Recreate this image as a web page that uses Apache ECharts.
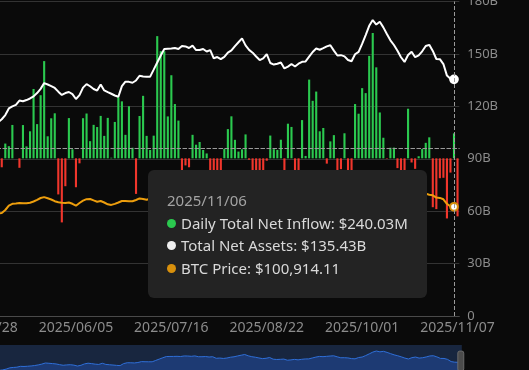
<!DOCTYPE html>
<html><head><meta charset="utf-8">
<script src="https://cdn.jsdelivr.net/npm/echarts@6/dist/echarts.min.js"></script>
<style>html,body{margin:0;padding:0;background:#0a0a0a;overflow:hidden}#c{width:529px;height:370px}</style>
</head><body><div id="c"></div>
<script>
const dates = [
'2025/04/28','2025/04/29','2025/04/30','2025/05/01','2025/05/02',
'2025/05/05','2025/05/06','2025/05/07','2025/05/08','2025/05/09',
'2025/05/12','2025/05/13','2025/05/14','2025/05/15','2025/05/16',
'2025/05/19','2025/05/20','2025/05/21','2025/05/22','2025/05/23',
'2025/05/27','2025/05/28','2025/05/29','2025/05/30',
'2025/06/02','2025/06/03','2025/06/04','2025/06/05','2025/06/06',
'2025/06/09','2025/06/10','2025/06/11','2025/06/12','2025/06/13',
'2025/06/16','2025/06/17','2025/06/18','2025/06/20',
'2025/06/23','2025/06/24','2025/06/25','2025/06/26','2025/06/27',
'2025/06/30','2025/07/01','2025/07/02','2025/07/03',
'2025/07/07','2025/07/08','2025/07/09','2025/07/10','2025/07/11',
'2025/07/14','2025/07/15','2025/07/16','2025/07/17','2025/07/18',
'2025/07/21','2025/07/22','2025/07/23','2025/07/24','2025/07/25',
'2025/07/28','2025/07/29','2025/07/30','2025/07/31','2025/08/01',
'2025/08/04','2025/08/05','2025/08/06','2025/08/07','2025/08/08',
'2025/08/11','2025/08/12','2025/08/13','2025/08/14','2025/08/15',
'2025/08/18','2025/08/19','2025/08/20','2025/08/21','2025/08/22',
'2025/08/25','2025/08/26','2025/08/27','2025/08/28','2025/08/29',
'2025/09/02','2025/09/03','2025/09/04','2025/09/05',
'2025/09/08','2025/09/09','2025/09/10','2025/09/11','2025/09/12',
'2025/09/15','2025/09/16','2025/09/17','2025/09/18','2025/09/19',
'2025/09/22','2025/09/23','2025/09/24','2025/09/25','2025/09/26',
'2025/09/29','2025/09/30','2025/10/01','2025/10/02','2025/10/03',
'2025/10/06','2025/10/07','2025/10/08','2025/10/09','2025/10/10',
'2025/10/13','2025/10/14','2025/10/15','2025/10/16','2025/10/17',
'2025/10/20','2025/10/21','2025/10/22','2025/10/23','2025/10/24',
'2025/10/27','2025/10/28','2025/10/29','2025/10/30','2025/10/31',
'2025/11/03','2025/11/04','2025/11/05','2025/11/06','2025/11/07'
];
// Daily total net inflow, USD millions
const dailyNetInflowM = [
591,173,-56,422,675, 425,-86,142,117,321, 0,-91,320,115,260, 667,329,607,935,212,
385,433,-347,-616, -268,387,87,-278,-48, 386,431,165,322,301, 408,216,389,6,
350,588,548,226,501, 102,-342,407,601, 216,80,218,1175,1030, 1030,403,799,522,363,
-131,-68,-86,226,131, 157,80,47,-114,-812, -323,-196,91,281,404, 178,65,87,230,-14,
-121,-523,-311,-194,-23, 219,88,81,179,-127, 333,302,-300,-160, 368,23,757,553,642,
260,292,-51,163,223, -363,-104,241,-258,-418, 522,429,675,627,985, 1205,875,441,198,-4.5,
102,103,-94,-536,-367, 477,-40,-101,20,90, 149,202,-470,-488,-191, -187,-578,-137,240.03,-558
];
// Total net assets, USD billions
const totalNetAssetsB = [
109.3,109.9,109.9,109.3,110.5, 111.0,112.6,115.0,118.8,120.0, 120.8,123.3,122.9,123.6,124.5,
125.7,127.6,130.0,133.3,132.5, 131.6,130.5,128.4,126.5, 127.6,128.2,127.0,124.2,126.4,
130.7,132.7,131.5,129.9,129.0, 132.5,129.1,128.1,127.2, 126.2,125.5,131.6,134.1,134.0,
133.5,134.8,137.5,137.1, 137.0,137.0,141.0,145.1,149.1, 152.8,153.0,153.1,153.4,152.8,
154.5,154.3,153.4,154.7,152.2, 152.2,152.8,151.4,152.2,147.5, 148.2,147.0,148.3,150.7,152.0,
154.5,156.7,158.9,154.9,152.3, 150.7,148.5,146.5,147.5,149.9, 144.8,143.9,144.4,145.1,141.7,
142.7,144.2,142.8,144.4, 145.5,145.7,148.4,151.1,153.1, 152.4,153.3,154.3,155.0,151.9,
149.1,149.3,148.6,146.5,145.8, 149.8,151.2,155.7,160.8,166.1, 169.4,166.8,168.4,165.2,161.4,
157.8,155.1,151.8,148.1,145.4, 149.4,151.2,148.1,149.2,151.5, 154.5,155.2,151.7,147.1,147.0,
144.2,137.6,135.8,135.43,null
];
// BTC price, USD
const btcPriceUSD = [
95000,94900,94200,96500,96900, 94400,94700,97700,102100,103900, 104100,104700,104500,104400,105000,
106200,107800,109700,110600,109400, 108200,106500,105400,104900, 104800,105200,103900,102000,104700,
107000,108500,108700,107300,106000, 106700,105200,103400,102800, 103800,105200,106700,106700,106400,
106400,107700,109300,108800, 108000,108900,111300,115900,117500, 119800,117700,118700,119300,117900,
117400,119900,118600,118300,117600, 118000,117900,117800,115800,113300, 115000,114100,115000,117500,116700,
118700,120200,123300,118400,117400, 116200,112900,114300,112400,116900, 110100,111800,111200,112600,108400,
111200,111700,110700,110700, 112000,111500,113900,115500,116100, 115400,116800,116500,117100,115700,
112700,112000,113300,109000,109700, 114400,114000,118600,120600,122300, 124800,121500,123300,121600,113200,
115300,113000,110800,108200,106500, 110600,108500,107600,110000,111000, 114100,112900,112400,110100,109800,
108400,103900,101200,100914.11,null
];
const assetAxisMin = 0, assetAxisMax = 180, assetAxisStep = 30;

const GREEN = '#2bc94f', RED = '#f0362c', WHITE = '#ffffff', ORANGE = '#d8900c';
const chart = echarts.init(document.getElementById('c'), null, {renderer: 'canvas'});
const fmtNum = (v, d) => v.toLocaleString('en-US', {minimumFractionDigits: d, maximumFractionDigits: d});
const dot = c => `<span style="display:inline-block;width:9px;height:9px;border-radius:50%;background:${c};margin-right:5px;vertical-align:1px"></span>`;

chart.setOption({
  backgroundColor: '#0a0a0a',
  animation: false,
  textStyle: {fontFamily: 'Noto Sans'},
  grid: {left: -21.2, right: 69.7, top: 1.5, bottom: 54, outerBoundsMode: 'none', containLabel: false},
  tooltip: {
    trigger: 'axis',
    alwaysShowContent: true,
    transitionDuration: 0,
    position: [148, 170],
    backgroundColor: '#232323',
    borderWidth: 0,
    padding: [19, 19],
    extraCssText: 'box-shadow:none;border-radius:6px;',
    axisPointer: {
      type: 'cross',
      label: {show: false},
      lineStyle: {color: '#9a9a9a', type: 'dashed', width: 1},
      crossStyle: {color: '#9a9a9a', type: 'dashed', width: 1}
    },
    formatter: params => {
      const i = params[0].dataIndex;
      const rows = [
        `<div style="color:#a3a3a3">${dates[i]}</div>`,
        `<div>${dot(GREEN)}Daily Total Net Inflow: $${fmtNum(dailyNetInflowM[i], 2)}M</div>`,
        `<div>${dot('#eeeeee')}Total Net Assets: $${fmtNum(totalNetAssetsB[i], 2)}B</div>`,
        `<div>${dot(ORANGE)}BTC Price: $${fmtNum(btcPriceUSD[i], 2)}</div>`
      ];
      return `<div style="font-family:'Noto Sans';font-size:15px;line-height:22.5px;color:#d9d9d9">${rows.join('')}</div>`;
    }
  },
  xAxis: {
    type: 'category',
    data: dates,
    boundaryGap: true,
    axisLine: {lineStyle: {color: '#4a4a4a'}},
    axisTick: {show: false},
    axisLabel: {interval: 26, color: '#8c8c8c', fontSize: 14, margin: 5}
  },
  yAxis: [
    {
      type: 'value', position: 'right', min: assetAxisMin, max: assetAxisMax, interval: assetAxisStep,
      axisLine: {show: false}, axisTick: {show: false},
      axisLabel: {color: '#8c8c8c', fontSize: 13, margin: 8, formatter: v => v === 0 ? '0' : v + 'B'},
      splitLine: {lineStyle: {color: '#333333', width: 1}}
    },
    {type: 'value', show: false, min: -1516, max: 1508, splitLine: {show: false}},
    {type: 'value', show: false, min: -8300, max: 306200, splitLine: {show: false}}
  ],
  dataZoom: [{
    type: 'slider', xAxisIndex: 0, start: 0, end: 100,
    left: -21.2, right: 69.7, top: 345, height: 32,
    backgroundColor: '#18263f', borderColor: 'transparent', fillerColor: 'rgba(0,0,0,0)',
    showDetail: false, brushSelect: false,
    moveHandleSize: 0, moveHandleStyle: {opacity: 0},
    handleIcon: 'path://M2,0h2a2,2,0,0,1,2,2v16a2,2,0,0,1,-2,2h-2a2,2,0,0,1,-2,-2v-16a2,2,0,0,1,2,-2Z',
    handleSize: '62%',
    handleStyle: {color: '#4b4b4b', borderColor: '#6a6a6a', borderWidth: 1},
    dataBackground: {lineStyle: {color: '#2f6fd8', width: 1, opacity: 1}, areaStyle: {color: '#1d3a73', opacity: 1}},
    selectedDataBackground: {lineStyle: {color: '#2f6fd8', width: 1, opacity: 1}, areaStyle: {color: '#1d3a73', opacity: 1}}
  }],
  series: [
    {
      name: 'Total Net Assets', type: 'line', yAxisIndex: 0, data: totalNetAssetsB, z: 4,
      showSymbol: false, symbolSize: 7,
      lineStyle: {color: WHITE, width: 2}, itemStyle: {color: WHITE}
    },
    {
      name: 'Daily Total Net Inflow', type: 'bar', yAxisIndex: 1, z: 2,
      barWidth: '60%',
      data: dailyNetInflowM.map(v => ({value: v, itemStyle: {color: v >= 0 ? GREEN : RED}}))
    },
    {
      name: 'BTC Price', type: 'line', yAxisIndex: 2, data: btcPriceUSD, z: 3,
      showSymbol: false, symbolSize: 7,
      lineStyle: {color: ORANGE, width: 2}, itemStyle: {color: ORANGE}
    }
  ]
});
chart.dispatchAction({type: 'showTip', x: 454, y: 148});
</script></body></html>
